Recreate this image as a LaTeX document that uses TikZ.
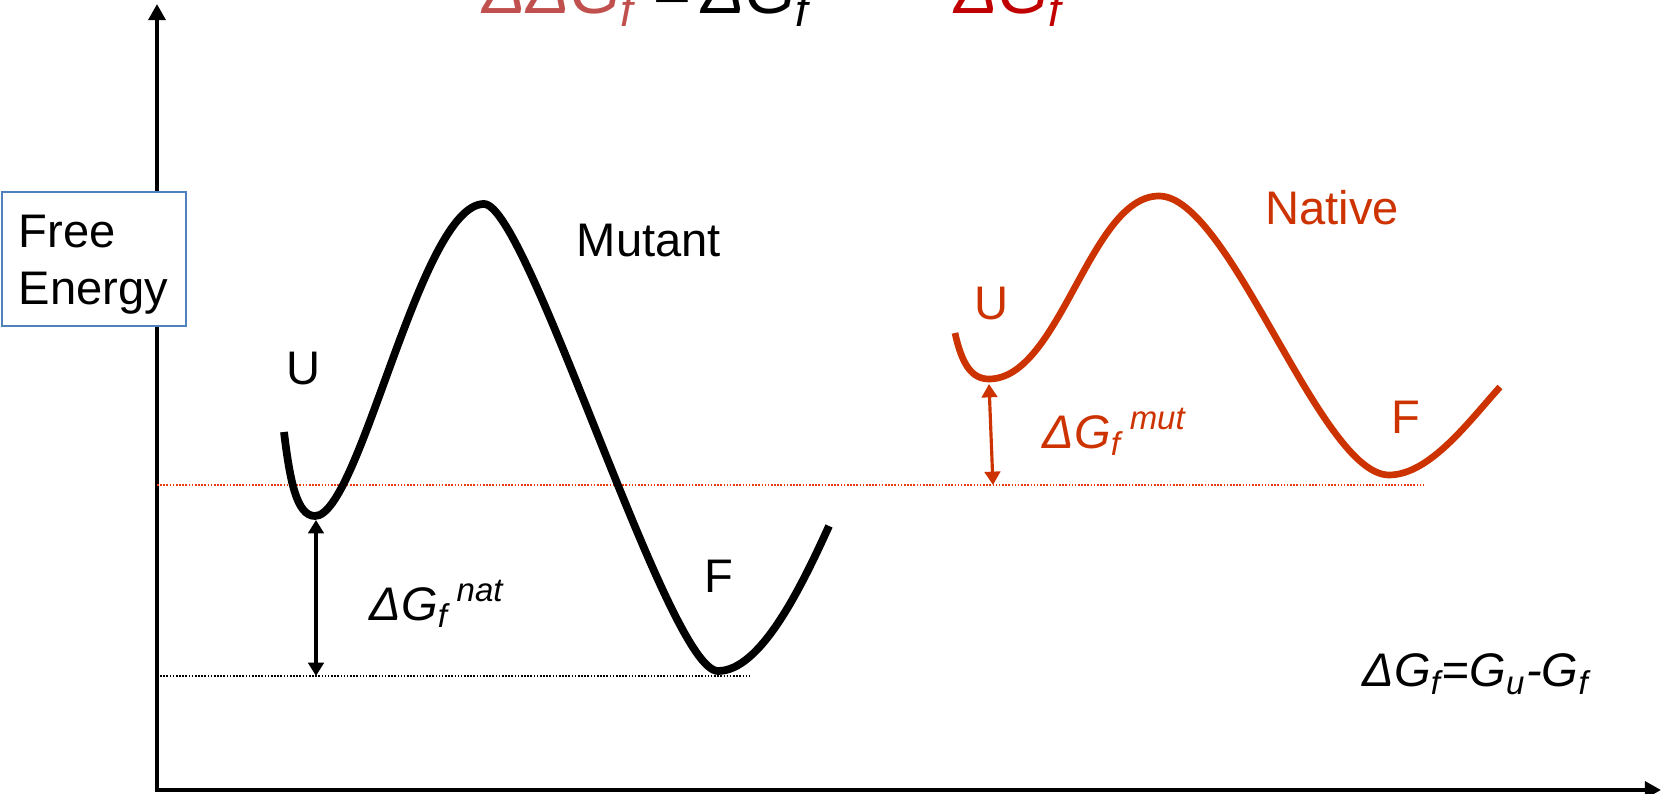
\documentclass[tikz,border=0pt]{standalone}
\usepackage{fontspec}
\setmainfont{Liberation Sans}
\usepackage{xcolor}
\definecolor{natred}{RGB}{204,51,0}
\definecolor{dotred}{RGB}{235,60,15}
\definecolor{ddgred}{RGB}{192,80,77}
\definecolor{eqred}{RGB}{192,0,0}
\definecolor{boxblue}{RGB}{79,129,189}
\usetikzlibrary{arrows.meta}

\newcommand{\dGlab}[1]{{\itshape ΔG\textsubscript{f}\,\textsuperscript{#1}}}

\begin{document}
\begin{tikzpicture}[
    x=0.01cm, y=-0.01cm,
    font=\fontsize{13.4}{16.2}\selectfont,
    axisline/.style={line width=1.1pt, {Triangle[length=4.6pt,width=4.8pt]}-{Triangle[length=4.6pt,width=4.8pt]}},
    mutcurve/.style={line width=2.2pt, black},
    natcurve/.style={line width=1.9pt, natred},
    gapline/.style={line width=0.9pt, {Triangle[length=3.8pt,width=4.4pt]}-{Triangle[length=3.8pt,width=4.4pt]}},
    levelline/.style={line width=0.5pt, dash pattern=on 0.45pt off 0.45pt},
    statelabel/.style={inner sep=0pt},
    eqpart/.style={inner sep=0pt, anchor=base west, font=\fontsize{18.5}{22}\selectfont\itshape}
  ]
  \useasboundingbox (0,0) rectangle (1662,794);

  % axes
  \coordinate (ytip) at (157,4);
  \coordinate (xtip) at (1661,790);
  \draw[axisline] (ytip) |- (xtip);

  % reference levels
  \draw[levelline, dotred] (157,485) -- (1424,485);
  \draw[levelline] (157,676) -- (750,676);

  % mutant profile
  \draw[mutcurve] (284,432) .. controls (290,482) and (297,516) .. (315,516)
    .. controls (360,516) and (420,204) .. (484,204)
    .. controls (528,204) and (668,671) .. (718,671)
    .. controls (760,671) and (800,590) .. (829,526);

  % native profile
  \draw[natcurve] (955,333) .. controls (962,365) and (972,379) .. (989,379)
    .. controls (1060,379) and (1090,196) .. (1159,196)
    .. controls (1230,196) and (1320,475) .. (1389,475)
    .. controls (1430,475) and (1470,420) .. (1500,387);

  \coordinate (mutmin) at (316,520);
  \coordinate (mutbase) at (316,676);
  \coordinate (natmin) at (989,384);
  \coordinate (natbase) at (993,485);
  \draw[gapline] (mutmin) -- (mutbase);
  \draw[gapline, natred] (natmin) -- (natbase);

  \node (ylabel) [draw=boxblue, line width=0.5pt, fill=white, anchor=north west,
    text width=1.5cm, inner xsep=0.17cm, text height=0.44cm, minimum height=1.25cm, align=left] at (1,191) {Free\\Energy};

  \node (umut) [statelabel] at (304,369) {U};
  \node (mutname) [statelabel] at (649,241) {Mutant};
  \node (fmut) [statelabel] at (719,576) {F};
  \node (gapmut) [statelabel, anchor=west] at (369,604) {\dGlab{nat}};

  \node (unat) [statelabel, natred] at (992,304) {U};
  \node (natname) [statelabel, natred] at (1332,208) {Native};
  \node (fnat) [statelabel, natred] at (1406,417) {F};
  \node (gapnat) [statelabel, natred, anchor=west] at (1042,432) {\dGlab{mut}};

  \node (dgdef) [statelabel, anchor=west] at (1362,674) {\itshape ΔG\textsubscript{f}=G\textsubscript{u}-G\textsubscript{f}};

  \begin{scope}
    \clip (0,0) rectangle (1662,794);
    \node (ddg) [eqpart, ddgred] at (482,14) {ΔΔG\textsubscript{f}};
    \node (dgmut) [eqpart] at (652,14) {=\,ΔG\textsubscript{f}};
    \node (dgnat) [eqpart, eqred] at (954,14) {ΔG\textsubscript{f}};
  \end{scope}
\end{tikzpicture}
\end{document}
